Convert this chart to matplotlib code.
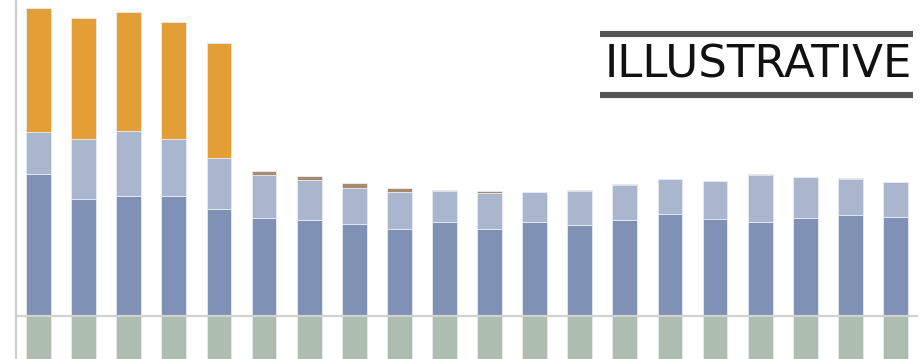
import matplotlib
matplotlib.use("Agg")
import matplotlib.pyplot as plt
from matplotlib.lines import Line2D
import numpy as np

# Stacked components per period (arbitrary illustrative units)
periods = list(range(1, 21))
base = [142.3, 117.3, 120.3, 120.3, 107.3, 98.3, 96.0, 92.3, 87.3, 94.3,
        87.3, 94.3, 91.3, 96.0, 102.3, 97.3, 94.3, 98.3, 101.3, 99.3]
extra = [41.4, 59.4, 64.4, 56.4, 51.0, 42.7, 39.7, 35.7, 37.0, 30.7,
         35.7, 29.4, 33.7, 34.7, 34.7, 37.7, 46.7, 40.7, 35.7, 34.4]
minor = [0, 0, 0, 0, 0, 4.3, 4.3, 4.7, 3.7, 1.0,
         2.0, 0.3, 1.0, 1.0, 0.2, 0.2, 1.0, 0.2, 1.0, 0.0]
peak = [124.3, 121.6, 119.3, 117.0, 114.4, 0, 0, 0, 0, 0,
        0, 0, 0, 0, 0, 0, 0, 0, 0, 0]
offset = [-60] * 20

c_base = "#7F92B5"
c_extra = "#AAB6CE"
c_minor = "#A88B6D"
c_peak = "#E39E35"
c_offset = "#ADBDAF"

W, H, DPI = 924, 359, 100
fig = plt.figure(figsize=(W / DPI, H / DPI), dpi=DPI)
ax = fig.add_axes([16 / W, 0, (918 - 16) / W, 1])

x = np.arange(len(periods))
bw = 0.55
edge = dict(edgecolor="#E6EAF2", linewidth=0.6)

b0 = np.zeros(len(x))
ax.bar(x, offset, bw, color=c_offset, **edge)
for vals, col in [(base, c_base), (extra, c_extra), (minor, c_minor), (peak, c_peak)]:
    v = np.array(vals, dtype=float)
    ax.bar(x, v, bw, bottom=b0, color=col, **edge)
    b0 += v

ax.axhline(0, color="#D2D2D2", lw=1.6, zorder=3)
ax.set_xlim(-0.5, 19.5)
ax.set_ylim(-43, 316)
for s in ["top", "right", "bottom"]:
    ax.spines[s].set_visible(False)
ax.spines["left"].set_color("#CFCFCF")
ax.spines["left"].set_linewidth(1.6)
ax.set_xticks([])
ax.set_yticks([])

# "ILLUSTRATIVE" stamp with rules above and below
def fx(px):
    return px / W

def fy(py):
    return 1 - py / H

for yy in (33.5, 95):
    fig.add_artist(Line2D([fx(600), fx(913)], [fy(yy), fy(yy)],
                          transform=fig.transFigure, color="#555555",
                          lw=4.4, solid_capstyle="butt"))
fig.text(fx(758), fy(65.5), "ILLUSTRATIVE", ha="center", va="center",
         fontsize=32.5, color="#111111", family="DejaVu Sans")

fig.savefig("out.png", dpi=DPI)
